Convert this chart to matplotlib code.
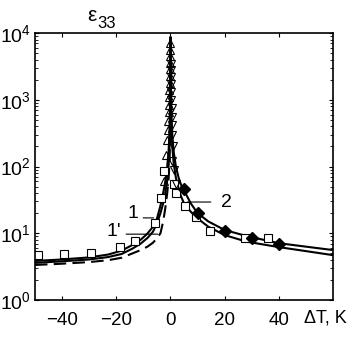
import numpy as np
import matplotlib
matplotlib.use('Agg')
import matplotlib.pyplot as plt
from matplotlib.ticker import LogLocator, FixedLocator, NullFormatter

plt.rcParams['font.family'] = ['Liberation Sans', 'DejaVu Sans']
plt.rcParams['mathtext.default'] = 'regular'

# theory curves, T < 0 (curve 1, curve 1', dashed)
t_neg = [-50, -40, -30, -23, -18, -14, -11, -8.5, -6.5, -5, -3.7, -2.7, -1.9, -1.2, -0.7, -0.4, -0.2, -0.1, -0.05, -0.02, 0]
eps_1 = [3.85, 4.05, 4.35, 4.8, 5.5, 6.7, 8.0, 9.9, 12.5, 16.5, 26, 40, 60, 100, 170, 300, 600, 1200, 2400, 5500, 8500]
eps_1p = [3.6, 3.8, 4.05, 4.4, 4.9, 5.9, 7.0, 8.5, 10.5, 14, 20, 28, 40, 63, 100, 175, 350, 700, 1400, 3500, 8500]
eps_dash = [3.35, 3.5, 3.7, 3.95, 4.3, 5.0, 5.6, 6.3, 7.2, 8.4, 10, 15, 24, 40, 65, 110, 220, 440, 900, 2200, 8500]

# theory curves, T > 0 (curve 2 and lower one)
t_pos = [0, 0.02, 0.05, 0.1, 0.2, 0.4, 0.7, 1.2, 2, 3, 4, 5, 7.5, 10, 14, 20, 28, 40, 50, 60]
eps_2 = [8500, 8000, 4000, 2000, 1000, 500, 285, 165, 100, 68, 52, 44, 28, 20, 15, 11.2, 9.1, 7.1, 6.3, 5.6]
eps_low = [8500, 6000, 2600, 1300, 650, 330, 190, 110, 68, 45, 35, 28, 21, 16.7, 12.5, 9.4, 7.5, 6.2, 5.4, 4.7]

# experiment: squares
sq_t = [-48.8, -39.3, -29.4, -18.8, -13, -5.6, -3.5, -2.5, 1.2, 2.1, 5.2, 9.3, 14.6, 27.4, 36]
sq_eps = [4.7, 4.9, 5.1, 6.2, 7.7, 14.1, 34, 86, 54, 40, 26, 17.7, 10.8, 8.4, 8.6]

# experiment: diamonds
dm_t = [4.9, 10.1, 20.1, 29.9, 39.9]
dm_eps = [46, 20.3, 10.8, 8.6, 6.9]

# experiment: triangles near the transition
tr_up_t = [-2.3, -1.8, -1.3, -1.0, -0.8, -0.6, -0.5, -0.45, -0.4, -0.35, -0.3, -0.3, -0.25, -0.25, -0.2, -0.2]
tr_up_eps = [60, 150, 250, 350, 480, 650, 850, 1100, 1400, 1800, 2300, 2900, 3600, 4500, 5600, 7000]
tr_dn_t = [2.2, 1.2, 0.6, 0.8, 0.6, 0.5, 0.45, 0.4, 0.35, 0.3, 0.3, 0.25, 0.25, 0.2]
tr_dn_eps = [55, 90, 120, 200, 300, 420, 560, 750, 1000, 1300, 1700, 2200, 2800, 3500]

fig = plt.figure(figsize=(3.6, 3.37), dpi=100)
ax = fig.add_axes([0.0972, 0.1098, 0.828, 0.792])

ax.plot(t_neg, eps_1, color='k', lw=1.5)
ax.plot(t_neg, eps_1p, color='k', lw=1.5)
ax.plot(t_neg, eps_dash, color='k', lw=1.5, dashes=(6, 3))
ax.plot(t_pos, eps_2, color='k', lw=1.5)
ax.plot(t_pos, eps_low, color='k', lw=1.5)

ax.plot(sq_t, sq_eps, 's', mfc='white', mec='k', ms=6, mew=0.8)
ax.plot(tr_up_t, tr_up_eps, '^', mfc='none', mec='k', ms=6, mew=0.8)
ax.plot(tr_dn_t, tr_dn_eps, 'v', mfc='none', mec='k', ms=6, mew=0.8)
ax.plot(dm_t, dm_eps, 'D', color='k', ms=6.5)

ax.set_yscale('log')
ax.set_xlim(-50, 60)
ax.set_ylim(1, 1e4)

ax.xaxis.set_major_locator(FixedLocator([-40, -20, 0, 20, 40]))
ax.set_xticklabels(['\u221240', '\u221220', '0', '20', '40'], fontsize=13.5)
ax.yaxis.set_minor_locator(LogLocator(base=10, subs=np.arange(2, 10), numticks=20))
ax.yaxis.set_minor_formatter(NullFormatter())
ax.set_yticks([1, 10, 100, 1000, 10000])
ax.set_yticklabels([r'$10^{0}$', r'$10^{1}$', r'$10^{2}$', r'$10^{3}$', r'$10^{4}$'], fontsize=14)

ax.tick_params(which='both', direction='in', top=True, right=True)
ax.tick_params(axis='x', which='major', length=3, width=0.8, pad=9)
ax.tick_params(axis='y', which='major', length=3, width=0.8, pad=3)
ax.tick_params(which='minor', length=2, width=0.6)
for s in ax.spines.values():
    s.set_linewidth(1.2)

# curve labels
ax.annotate('', xy=(-5.2, 17), xytext=(-11.1, 17), arrowprops=dict(arrowstyle='-', lw=0.8))
ax.text(-13.7, 20, '1', fontsize=14, ha='center', va='center')
ax.annotate('', xy=(-3.7, 9.7), xytext=(-17.4, 9.7), arrowprops=dict(arrowstyle='-', lw=0.8))
ax.text(-21, 10.8, "1'", fontsize=14, ha='center', va='center')
ax.annotate('', xy=(5.2, 29.4), xytext=(15.9, 29.4), arrowprops=dict(arrowstyle='-', lw=0.8))
ax.text(18.5, 29.4, '2', fontsize=14, ha='left', va='center')

fig.text(0.255, 0.955, '\u03b5', fontsize=15, ha='center', va='center')
fig.text(0.295, 0.93, '33', fontsize=12, ha='center', va='center')
fig.text(0.905, 0.055, '\u0394T, K', fontsize=13, ha='center', va='center')

fig.savefig('out.png', dpi=100)
